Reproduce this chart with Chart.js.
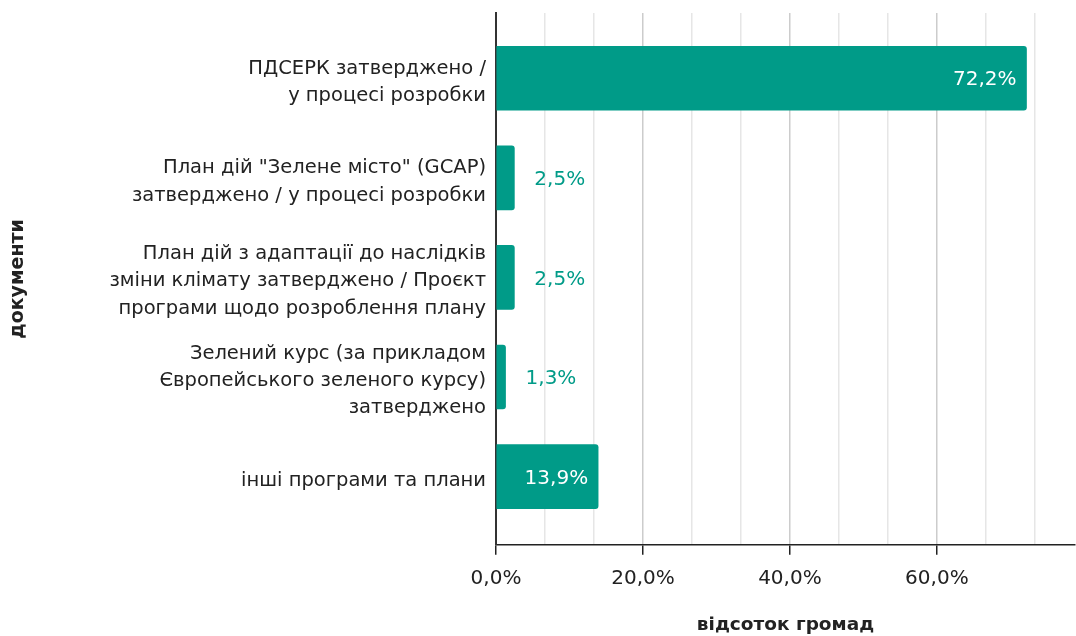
<!DOCTYPE html>
<html>
<head>
<meta charset="utf-8">
<script src="https://cdn.jsdelivr.net/npm/chart.js@4"></script>
<style>
  html, body { margin: 0; padding: 0; background: #ffffff; }
  #wrap { width: 1076px; height: 636px; position: relative; }
</style>
</head>
<body>
<div id="wrap"><canvas id="c" width="1076" height="636"></canvas></div>
<script>
const categories = [
  ["ПДСЕРК затверджено /", "у процесі розробки"],
  ["План дій \"Зелене місто\" (GCAP)", "затверджено / у процесі розробки"],
  ["План дій з адаптації до наслідків", "зміни клімату затверджено / Проєкт", "програми щодо розроблення плану"],
  ["Зелений курс (за прикладом", "Європейського зеленого курсу)", "затверджено"],
  ["інші програми та плани"]
];
const values = [72.2, 2.5, 2.5, 1.3, 13.9];
const valueLabels = ["72,2%", "2,5%", "2,5%", "1,3%", "13,9%"];
const xTickLabels = ["0,0%", "20,0%", "40,0%", "60,0%"];
const xTitle = "відсоток громад";
const yTitle = "документи";

const TEAL = "#009b88";
const FONT = "'DejaVu Sans', Verdana, sans-serif";

const labelPlugin = {
  id: "barLabels",
  afterDatasetsDraw(chart) {
    const ctx = chart.ctx;
    const meta = chart.getDatasetMeta(0);
    ctx.save();
    ctx.font = "20px " + FONT;
    ctx.textBaseline = "middle";
    meta.data.forEach((bar, i) => {
      const txt = valueLabels[i];
      const w = ctx.measureText(txt).width;
      const len = bar.x - bar.base;
      if (len > w + 20) {
        ctx.fillStyle = "#ffffff";
        ctx.textAlign = "right";
        ctx.fillText(txt, bar.x - 10, bar.y + 2);
      } else {
        ctx.fillStyle = TEAL;
        ctx.textAlign = "left";
        ctx.fillText(txt, bar.x + 20, bar.y + 2);
      }
    });
    ctx.restore();
  }
};

new Chart(document.getElementById("c"), {
  type: "bar",
  data: {
    datasets: [{
      data: values.map((v, i) => ({ x: v, y: i })),
      backgroundColor: TEAL,
      borderRadius: 3,
      barThickness: 64
    }]
  },
  options: {
    indexAxis: "y",
    responsive: false,
    animation: false,
    devicePixelRatio: 1,
    layout: { padding: { top: 13, right: 1, bottom: 0, left: 0 } },
    plugins: { legend: { display: false }, tooltip: { enabled: false } },
    scales: {
      x: {
        type: "linear",
        min: 0,
        max: 78.8,
        afterFit: (scale) => { scale.paddingLeft = 0; scale.paddingRight = 0; },
        ticks: {
          stepSize: 20 / 3,
          includeBounds: false,
          autoSkip: false,
          maxRotation: 0,
          padding: 12,
          color: "#222222",
          font: { family: FONT, size: 20 },
          callback: (v, i) => (i % 3 === 0 ? xTickLabels[i / 3] : "")
        },
        grid: {
          color: (c) => (c.index % 3 === 0 ? "#cccccc" : "#e6e6e6"),
          tickColor: (c) => (c.index % 3 === 0 ? "#222222" : "rgba(0,0,0,0)"),
          tickLength: 10,
          lineWidth: 1.5
        },
        border: { display: true, color: "#222222", width: 1.5 },
        title: {
          display: true,
          text: xTitle,
          color: "#222222",
          font: { family: FONT, size: 18.5, weight: "bold" },
          padding: { top: 11, bottom: 0 }
        }
      },
      y: {
        type: "linear",
        reverse: true,
        offset: false,
        min: -0.655,
        max: 4.685,
        afterBuildTicks: (scale) => {
          scale.ticks = categories.map((_, i) => ({ value: i }));
        },
        afterFit: (scale) => {
          scale.width = 496;
          scale.paddingTop = 0;
          scale.paddingBottom = 0;
        },
        ticks: {
          autoSkip: false,
          padding: 10,
          labelOffset: 4,
          color: "#222222",
          font: { family: FONT, size: 19.5, lineHeight: 1.4 },
          callback: (v) => categories[v]
        },
        grid: { display: false, drawTicks: false },
        border: { display: true, color: "#333333", width: 2 },
        title: {
          display: true,
          text: yTitle,
          color: "#222222",
          font: { family: FONT, size: 19, weight: "bold" },
          padding: { top: 7, bottom: 0 }
        }
      }
    }
  },
  plugins: [labelPlugin]
});
</script>
</body>
</html>
